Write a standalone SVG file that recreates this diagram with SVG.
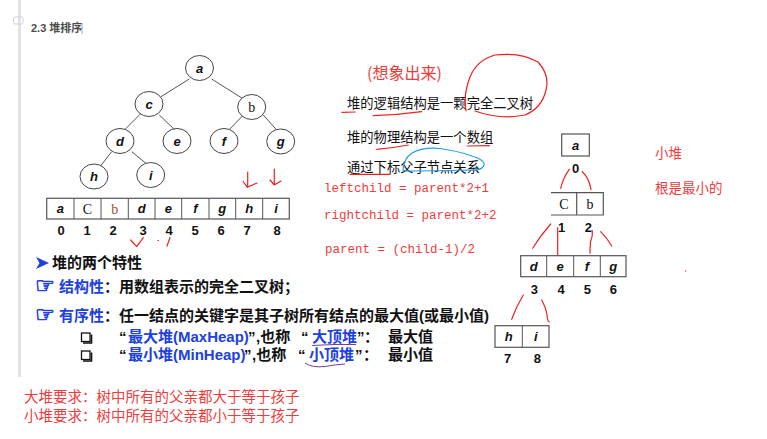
<svg xmlns="http://www.w3.org/2000/svg" width="767" height="439" viewBox="0 0 767 439">
<defs>
<style>
.node{fill:#fff;stroke:#444;stroke-width:1}
.edge{stroke:#555;stroke-width:1;fill:none}
.cell{fill:#fff;stroke:#555;stroke-width:1.2}
.lbl{font-family:"Liberation Sans",Arial,sans-serif;font-weight:bold;font-style:italic;font-size:13px;fill:#111;text-anchor:middle}
.ser{font-family:"Liberation Serif","Times New Roman",serif;font-size:14px;fill:#111;text-anchor:middle}
.idx{font-family:"Liberation Sans",Arial,sans-serif;font-weight:bold;font-size:13px;fill:#111;text-anchor:middle}
.cn{font-family:"Liberation Sans","Noto Sans CJK SC",sans-serif;font-weight:bold;font-size:15px;fill:#111}
.blue{fill:#2040e0}
.hand{font-family:"DejaVu Sans",sans-serif;font-size:22px;fill:#2040e0;stroke:#2040e0;stroke-width:0.9}
.note{font-family:"Noto Sans CJK SC",sans-serif;font-size:13.3px;fill:#111}
.red{font-family:"Noto Sans CJK SC",sans-serif;fill:#f03c3c}
.code{font-family:"Liberation Mono","Courier New",monospace;font-size:12.5px;fill:#f03c3c}
.ink{fill:none;stroke:#f02020;stroke-width:1.2;stroke-linecap:round;stroke-linejoin:round}
</style>
</defs>
<rect width="767" height="439" fill="#fff"/>
<!-- page chrome -->
<rect x="18" y="0" width="3" height="377" fill="#e3e3e3"/>
<rect x="13.5" y="17" width="9.5" height="7" rx="1.5" fill="none" stroke="#d0d0d0" stroke-width="1"/>
<text x="31" y="32" font-family="Liberation Sans,'Noto Sans CJK SC',sans-serif" font-weight="bold" font-size="11" fill="#4d4d4d">2.3 堆排序</text>
<line x1="82" y1="23" x2="82" y2="34" stroke="#888" stroke-width="0.8"/>

<!-- tree connectors -->
<g id="connectors">
<line class="edge" x1="189.3" y1="79" x2="161" y2="96.7"/>
<line class="edge" x1="211.7" y1="79" x2="245" y2="100"/>
<line class="edge" x1="141.7" y1="112.7" x2="122.7" y2="131.7"/>
<line class="edge" x1="159.3" y1="115" x2="176.7" y2="131.7"/>
<line class="edge" x1="243.3" y1="115" x2="227.3" y2="131.7"/>
<line class="edge" x1="263.3" y1="115" x2="278.3" y2="131.7"/>
<line class="edge" x1="111.7" y1="151.7" x2="100" y2="166.7"/>
<line class="edge" x1="131.7" y1="151.7" x2="146.7" y2="164"/>
</g>

<g id="node-a"><ellipse class="node" cx="199.5" cy="68" rx="14" ry="12.5"/><text class="lbl" x="199.5" y="72.5">a</text></g>
<g id="node-c"><ellipse class="node" cx="149" cy="104" rx="14" ry="12.5"/><text class="lbl" x="149" y="108.5">c</text></g>
<g id="node-b"><ellipse class="node" cx="251.7" cy="107" rx="14" ry="12.5"/><text class="ser" x="251.7" y="111.5">b</text></g>
<g id="node-d"><ellipse class="node" cx="120" cy="141" rx="14" ry="12.5"/><text class="lbl" x="120" y="145.5">d</text></g>
<g id="node-e"><ellipse class="node" cx="177" cy="141" rx="14" ry="12.5"/><text class="lbl" x="177" y="145.5">e</text></g>
<g id="node-f"><ellipse class="node" cx="224" cy="141" rx="14" ry="12.5"/><text class="lbl" x="224" y="145.5">f</text></g>
<g id="node-g"><ellipse class="node" cx="280.7" cy="141.5" rx="14" ry="12.5"/><text class="lbl" x="280.7" y="146">g</text></g>
<g id="node-h"><ellipse class="node" cx="94" cy="176.5" rx="14" ry="12.5"/><text class="lbl" x="94" y="181">h</text></g>
<g id="node-i"><ellipse class="node" cx="150.7" cy="175" rx="14" ry="12.5"/><text class="lbl" x="150.7" y="179.5">i</text></g>

<!-- left array -->
<g id="array">
<rect class="cell" x="46.7" y="198.3" width="242.6" height="20.7"/>
<path d="M74 198.3V219M101 198.3V219M128.3 198.3V219M155 198.3V219M181.7 198.3V219M209 198.3V219M235.7 198.3V219M262.7 198.3V219" stroke="#555" stroke-width="1"/>
<text class="lbl" x="60.3" y="213">a</text>
<text class="ser" x="87.5" y="213.5" font-size="13">C</text>
<text class="ser" x="114.7" y="213.5" font-size="13" style="fill:#a0522d">b</text>
<text class="lbl" x="141.7" y="213">d</text>
<text class="lbl" x="168.3" y="213">e</text>
<text class="lbl" x="195.3" y="213">f</text>
<text class="lbl" x="222.3" y="213">g</text>
<text class="lbl" x="249.2" y="213">h</text>
<text class="lbl" x="276" y="213">i</text>
<text class="idx" x="61" y="235">0</text>
<text class="idx" x="87" y="235">1</text>
<text class="idx" x="113" y="235">2</text>
<text class="idx" x="143" y="235">3</text>
<text class="idx" x="169" y="235">4</text>
<text class="idx" x="195" y="235">5</text>
<text class="idx" x="221" y="235">6</text>
<text class="idx" x="247" y="235">7</text>
<text class="idx" x="277" y="235">8</text>
</g>

<!-- red marks near array -->
<g id="marks-left">
<path class="ink" d="M247.7 172V187.3M243 181.5L247.5 187.3L257 183"/>
<path class="ink" d="M274.3 169V185M270 180L274.3 185L281 181"/>
<path class="ink" d="M130.7 240L136.7 246.7L143.3 237.7"/>
<path class="ink" d="M158 240.5L158.5 240.5M167 246L170 237.5"/>
</g>

<!-- features text -->
<g id="features">
<polygon points="36,257 49,263 36,269 39.5,263" fill="#2040e0"/>
<text class="cn" x="52" y="268">堆的两个特性</text>
<text class="hand" x="35" y="293">☞</text>
<text class="cn" x="59" y="292"><tspan class="blue">结构性</tspan>：用数组表示的完全二叉树；</text>
<text class="hand" x="35" y="322">☞</text>
<text class="cn" x="59" y="321"><tspan class="blue">有序性</tspan>：任一结点的关键字是其子树所有结点的最大值(或最小值)</text>
<rect x="81.5" y="333" width="8.5" height="8.5" fill="none" stroke="#111" stroke-width="1.3"/>
<path d="M83 343H91.5V334.5" fill="none" stroke="#111" stroke-width="1.6"/>
<rect x="81.5" y="351" width="8.5" height="8.5" fill="none" stroke="#111" stroke-width="1.3"/>
<path d="M83 361H91.5V352.5" fill="none" stroke="#111" stroke-width="1.6"/>
<text class="cn" y="342"><tspan x="119">“</tspan><tspan x="128" class="blue">最大堆(MaxHeap)</tspan><tspan x="248">”</tspan><tspan x="256">,也称</tspan><tspan x="301">“</tspan><tspan x="312" class="blue">大顶堆</tspan><tspan x="357">”</tspan><tspan x="364">：</tspan><tspan x="388">最大值</tspan></text>
<text class="cn" y="360"><tspan x="119">“</tspan><tspan x="128" class="blue">最小堆(MinHeap)</tspan><tspan x="244">”</tspan><tspan x="252">,也称</tspan><tspan x="298">“</tspan><tspan x="309" class="blue">小顶堆</tspan><tspan x="355">”</tspan><tspan x="363">：</tspan><tspan x="388">最小值</tspan></text>
<path d="M312 345.5Q334 344 356 344.5" fill="none" stroke="#7a3c9c" stroke-width="1"/>
<path d="M305 363Q312 368 325 366.5Q336 364.5 345 364" fill="none" stroke="#7a3c9c" stroke-width="1"/>
</g>

<!-- bottom red notes -->
<text class="red" x="24" y="402" font-size="14.5">大堆要求：树中所有的父亲都大于等于孩子</text>
<text class="red" x="24" y="421" font-size="14.5">小堆要求：树中所有的父亲都小于等于孩子</text>

<!-- middle notes -->
<g id="notes">
<text class="red" x="367" y="79" font-size="16">(想象出来)</text>
<text class="note" x="347" y="108">堆的逻辑结构是一颗完全二叉树</text>
<text class="note" x="347" y="142">堆的物理结构是一个数组</text>
<text class="note" x="347" y="172">通过下标父子节点关系</text>
<path class="ink" d="M466 111Q463 95 470 77Q477 60 495 55Q520 52 538 62Q550 75 546 90Q542 108 525 115Q500 120 475 111"/>
<path class="ink" d="M342 112.3L355 112M373.3 115.7Q398 115 421.7 111.7"/>
<path class="ink" d="M376.7 149.3Q393 148 408.3 145M467.3 146L489.3 145.7"/>
<path class="ink" d="M350 174.3L390 174.3"/>
<path d="M403 170Q404 158 412 153Q422 147 440 148.5Q458 151 472 156Q485 160 484 165Q482 171 470 170Q440 171 407 171Z" fill="none" stroke="#1ea0e6" stroke-width="1.2"/>
<text class="code" x="324" y="192">leftchild = parent*2+1</text>
<text class="code" x="324" y="219">rightchild = parent*2+2</text>
<text class="code" x="325" y="253">parent = (child-1)/2</text>
</g>

<!-- right heap as arrays -->
<g id="heap-right">
<rect class="cell" x="561.7" y="134" width="27.6" height="22"/>
<text class="lbl" x="575.5" y="149.5">a</text>
<text class="idx" x="575.7" y="172.5">0</text>
<path d="M551 192.7H603.3V215H551M576.7 192.7V215" fill="none" stroke="#555" stroke-width="1.2"/>
<text class="ser" x="563.8" y="208.5" font-size="13">C</text>
<text class="ser" x="590" y="208.5" font-size="13">b</text>
<text class="idx" x="561.7" y="232">1</text>
<text class="idx" x="588.3" y="232">2</text>
<rect class="cell" x="520.7" y="255.7" width="105.3" height="21"/>
<path d="M546.7 255.7V276.7M573.7 255.7V276.7M600.3 255.7V276.7" stroke="#555" stroke-width="1"/>
<text class="lbl" x="533.7" y="270.5">d</text>
<text class="lbl" x="560.2" y="270.5">e</text>
<text class="lbl" x="587" y="270.5">f</text>
<text class="lbl" x="613.2" y="270.5">g</text>
<text class="idx" x="534.3" y="294">3</text>
<text class="idx" x="561" y="294">4</text>
<text class="idx" x="587.3" y="294">5</text>
<text class="idx" x="613.3" y="294">6</text>
<rect class="cell" x="495" y="325.7" width="54" height="21.6"/>
<path d="M522.3 325.7V347.3" stroke="#555" stroke-width="1"/>
<text class="lbl" x="508.7" y="341">h</text>
<text class="lbl" x="535.7" y="341">i</text>
<text class="idx" x="507.7" y="363">7</text>
<text class="idx" x="537.3" y="363">8</text>
<path class="ink" d="M569.3 169.3Q563 178 560.7 188.3M582.3 171.7Q589 178 591 189.3"/>
<path class="ink" d="M550.7 224Q540 236 532.7 248.3M557.7 227.7V255M592.3 230.7Q593 236 590.5 242Q590 248 590 253.3M600.7 231.7Q607 238 611.7 246"/>
<path class="ink" d="M523.3 295Q516 307 511.7 319.3M541.7 300Q546 308 547 315Q547.5 322 549.5 322"/>
<circle cx="685.7" cy="271" r="0.7" fill="#f03c3c"/>
<text class="red" x="655" y="158" font-size="13.5">小堆</text>
<text class="red" x="655" y="193" font-size="13.5">根是最小的</text>
</g>
</svg>
